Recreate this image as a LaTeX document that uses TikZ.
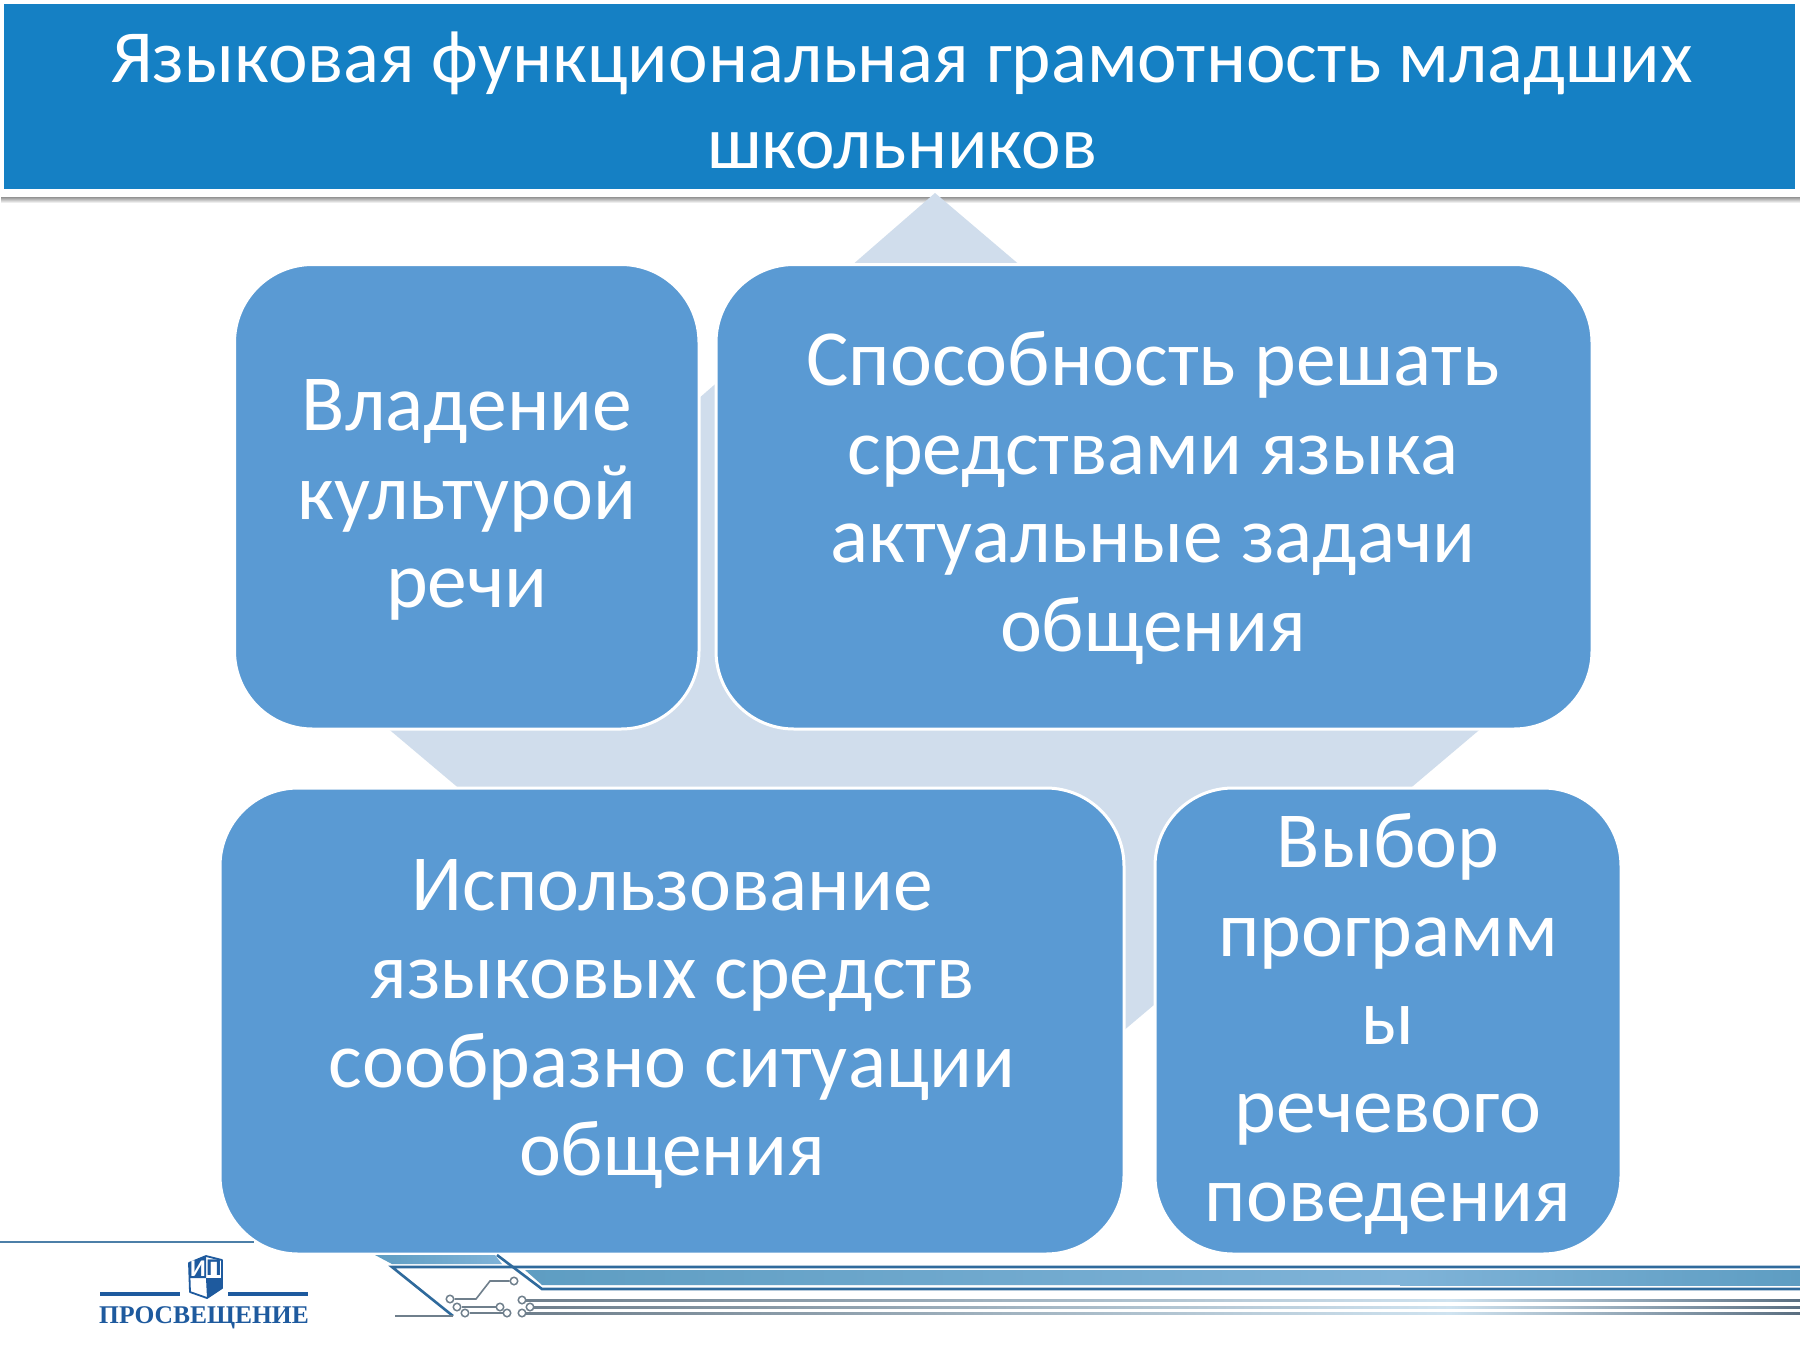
\documentclass[tikz,border=0pt]{standalone}
\usepackage{fontspec}
\setmainfont{Carlito}
\newfontfamily\logofont{Liberation Serif}
\definecolor{hdr}{HTML}{1580C4}
\definecolor{boxc}{HTML}{5A9AD3}
\definecolor{dia}{HTML}{D0DDEC}
\definecolor{lnc}{HTML}{4C7FA8}
\definecolor{lnd}{HTML}{2F6A9C}
\definecolor{bandc}{HTML}{7FB3D8}
\definecolor{bandd}{HTML}{5E9DC2}
\definecolor{logoc}{HTML}{1E5A9E}
\definecolor{wire}{HTML}{6F7F8C}
\definecolor{wirel}{HTML}{CFE3F0}
\definecolor{wired}{HTML}{5A6E80}
\tikzset{
 x=1pt,y=-1pt,
 rbox/.style={fill=boxc,draw=white,line width=3pt,rounded corners=78pt},
 btext/.style={text=white,font=\fontsize{79.5}{88.4}\selectfont,align=center,inner sep=0pt},
 ttext/.style={text=white,font=\fontsize{75}{86}\selectfont,align=center,inner sep=0pt},
 thinl/.style={draw=lnc,line width=2.8pt},
 darkl/.style={draw=lnd,line width=2.6pt},
 wireln/.style={draw=wire,line width=1.6pt},
 padc/.style={circle,draw=wire,line width=1.5pt,fill=white,minimum size=7.5pt,inner sep=0pt},
}
\begin{document}
\begin{tikzpicture}
\useasboundingbox (0,0) rectangle (1800,1350);
\fill[white] (0,0) rectangle (1800,1350);
% header
\shade[top color=gray!85,bottom color=white] (1,197) rectangle (1800,203);
\fill[hdr] (4,4) rectangle (1795,189);
\node[ttext] (title) at (902,100) {Языковая функциональная грамотность младших\\школьников};
% diamond
\fill[dia] (935,193) -- (1523,693) -- (935,1190) -- (353,699) -- cycle;
% boxes
\draw[rbox] (234.5,264.5) rectangle (699,729);
\draw[rbox] (716,264.5) rectangle (1592,729);
\draw[rbox] (220,788) rectangle (1124,1254);
\draw[rbox] (1155,788) rectangle (1621,1254);
\node[btext] (b1) at (467,500) {Владение\\культурой\\речи};
\node[btext] (b2) at (1153,498) {Способность решать\\средствами языка\\актуальные задачи\\общения};
\node[btext] (b3) at (672,1024) {Использование\\языковых средств\\сообразно ситуации\\общения};
\node[btext] (b4) at (1388,1024) {Выбор\\программ\\ы\\речевого\\поведения};
% footer left
\draw[thinl] (0,1242) -- (254,1242);
\fill[logoc] (100,1292) rectangle (180,1296);
\fill[logoc] (228,1292) rectangle (308,1296);
% shield
\fill[white,draw=logoc,line width=1.8pt,line join=round] (189,1263) -- (206,1256) -- (222,1260) -- (222,1288) -- (207,1298) -- (190,1292) -- cycle;
\fill[logoc] (189,1263) -- (206,1256) -- (206,1278) -- (189,1278) -- cycle;
\fill[logoc] (206,1278) -- (222,1278) -- (222,1288) -- (207,1298) -- cycle;
\node[text=white,font=\bfseries\fontsize{24}{24}\selectfont,inner sep=0pt] (logoi) at (198,1269) {И};
\node[text=logoc,font=\bfseries\fontsize{24}{24}\selectfont,inner sep=0pt] (logop) at (214,1268) {П};
\node[text=logoc,font=\logofont\bfseries\fontsize{25.5}{25.5}\selectfont,inner sep=0pt] (logo) at (204,1318) {ПРОСВЕЩЕНИЕ};
% footer right bands
\shade[left color=bandd,right color=bandc] (375,1255) -- (495,1255) -- (502,1264) -- (392,1264) -- cycle;
\shade[left color=bandd,right color=bandc] (525,1270) -- (1400,1270) -- (1400,1285) -- (542,1285) -- cycle;
\shade[left color=bandc,right color=bandd] (1400,1270) rectangle (1800,1285);
\draw[darkl] (1800,1267) -- (392,1267) -- (453,1316);
\draw[wireln,line width=2.4pt] (395,1316) -- (453,1316);
\draw[darkl] (497,1255) -- (542,1289) -- (1800,1289);
% circuit
\node[padc] (p1) at (450,1299) {};
\node[padc] (p2) at (514,1281) {};
\coordinate (k1) at (476,1299);
\coordinate (k2) at (490,1281);
\draw[wireln] (p1) -- (k1) -- (k2) -- (p2);
\node[padc] (p3) at (457,1307) {};
\node[padc] (p4) at (500,1307) {};
\draw[wireln] (p3) -- (p4);
\node[padc] (p5) at (465,1313) {};
\node[padc] (p6) at (507,1313) {};
\draw[wireln] (p5) -- (p6);
\foreach \yy/\xx in {1300/525,1307/533,1313/525}{
  \shade[left color=wire,right color=wirel] (\xx,\yy-1) rectangle (1450,\yy+1);
  \shade[left color=wirel,right color=wired] (1450,\yy-1) rectangle (1800,\yy+1);
}
\node[padc] (p7) at (522,1300) {};
\node[padc] (p8) at (530,1307) {};
\node[padc] (p9) at (522,1313) {};
\end{tikzpicture}
\end{document}
